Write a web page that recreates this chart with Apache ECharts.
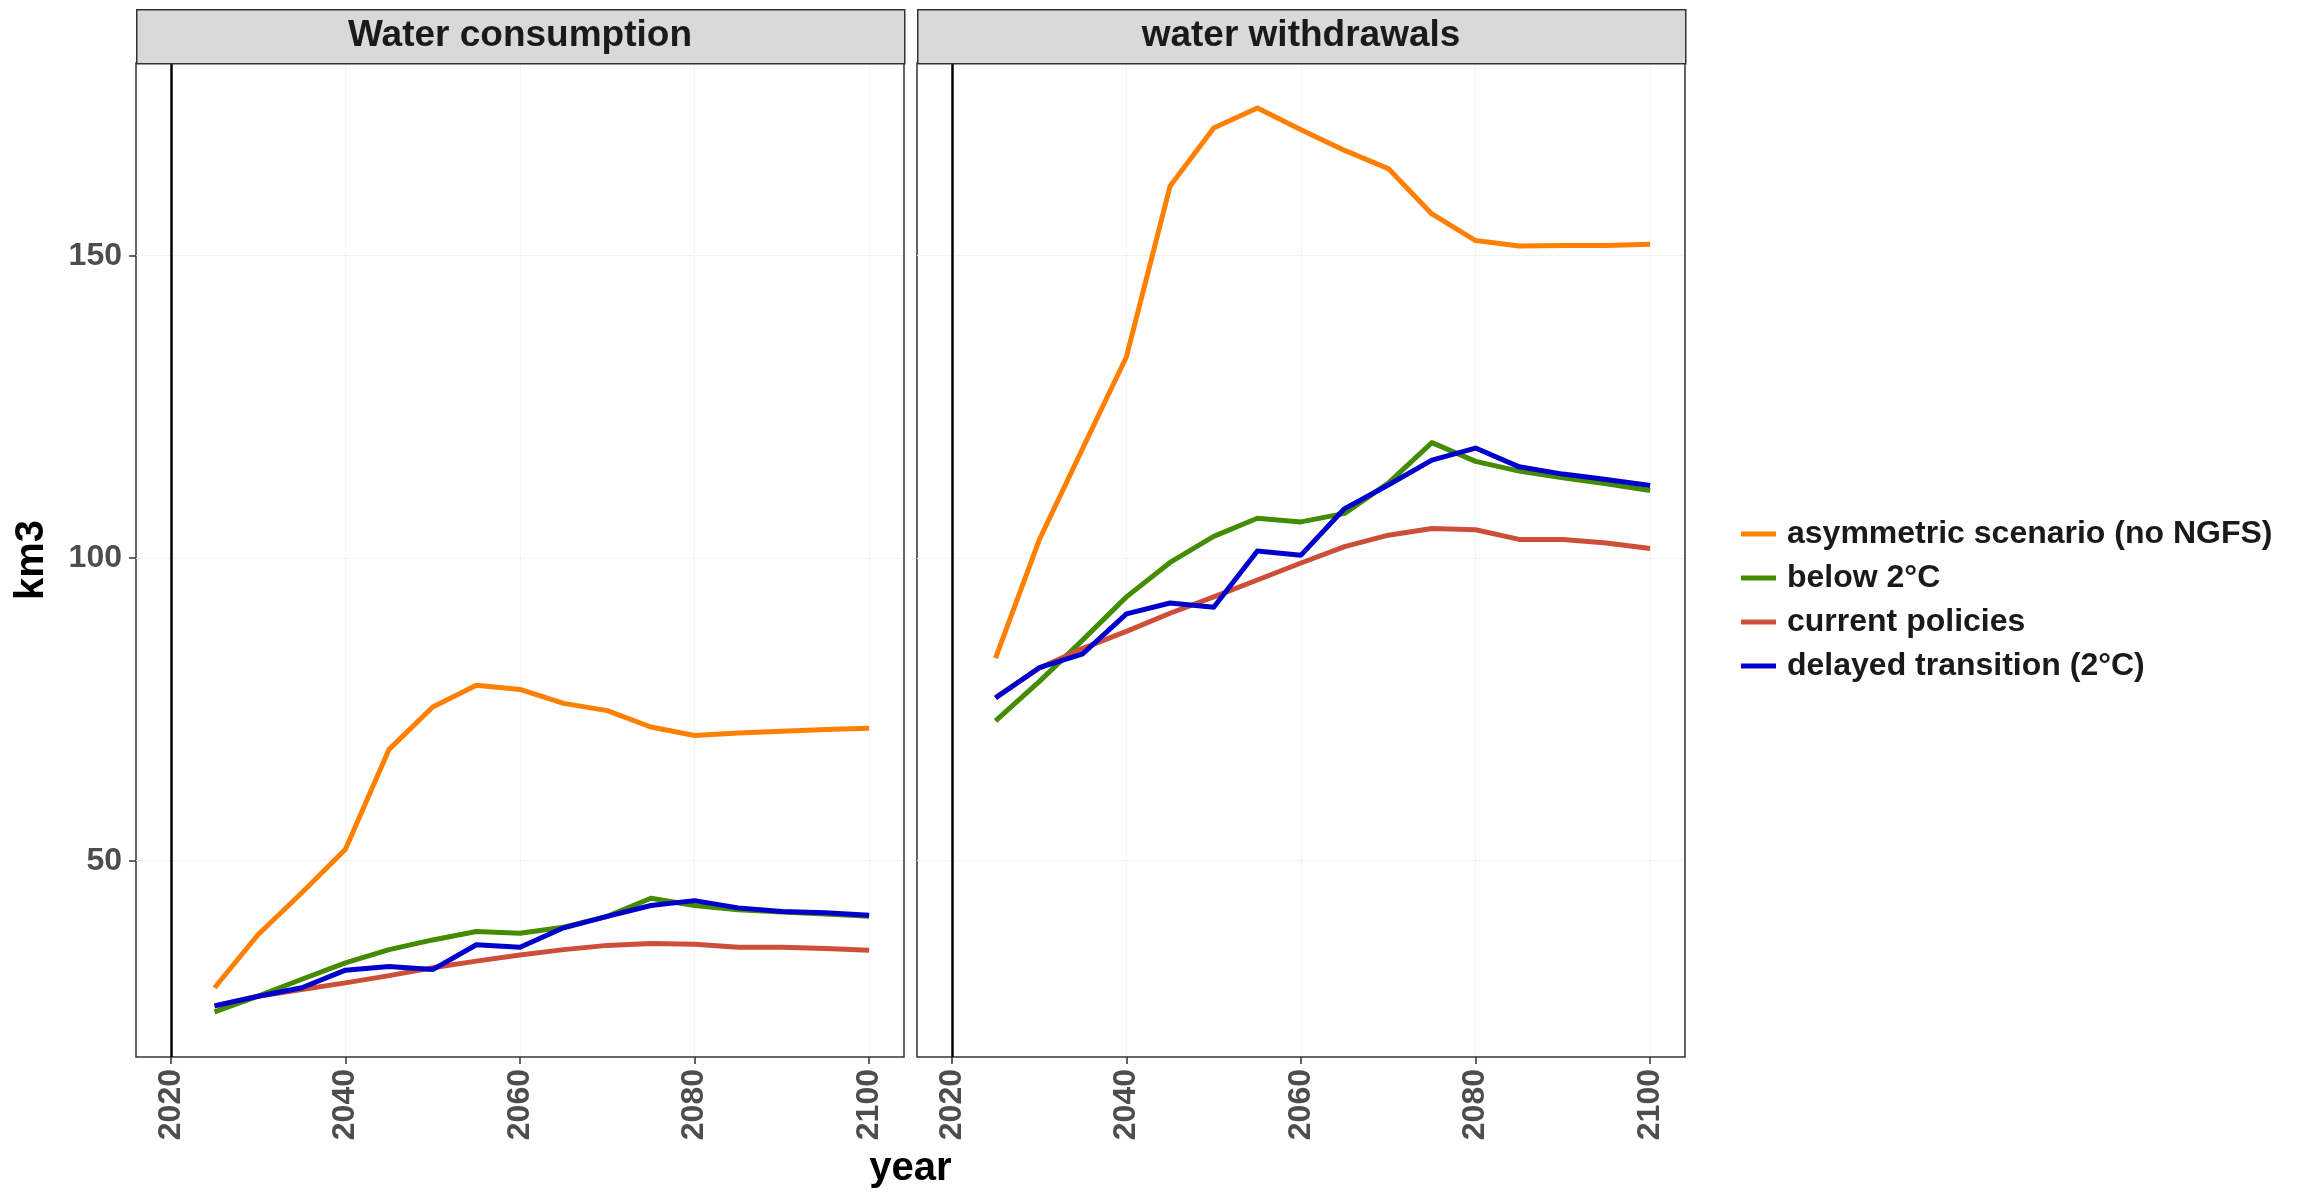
<!DOCTYPE html>
<html>
<head>
<meta charset="utf-8">
<script src="https://cdn.jsdelivr.net/npm/echarts@6/dist/echarts.min.js"></script>
<style>html,body{margin:0;padding:0;background:#fff;}#c{width:2305px;height:1197px;}</style>
</head>
<body>
<div id="c"></div>
<script>
const years = [2025,2030,2035,2040,2045,2050,2055,2060,2065,2070,2075,2080,2085,2090,2095,2100];
const panelTitles = ['Water consumption', 'water withdrawals'];
const seriesNames = ['asymmetric scenario (no NGFS)', 'below 2°C', 'current policies', 'delayed transition (2°C)'];
const seriesColors = ['#FF7F00', '#458B00', '#CD4F39', '#0000CD'];

// Water consumption (km3)
const asymConsumption    = [29.0,37.8,44.7,51.9,68.4,75.4,79.0,78.3,76.0,74.8,72.1,70.7,71.1,71.4,71.7,71.9];
const belowConsumption   = [25.0,27.6,30.4,33.1,35.3,36.9,38.3,38.0,39.0,40.8,43.8,42.6,41.9,41.5,41.2,40.8];
const currentConsumption = [26.0,27.6,28.7,29.8,31.0,32.3,33.4,34.4,35.3,36.0,36.3,36.2,35.7,35.7,35.5,35.2];
const delayedConsumption = [26.0,27.6,29.0,31.9,32.5,32.0,36.1,35.7,38.9,40.8,42.6,43.4,42.2,41.6,41.4,41.0];

// Water withdrawals (km3)
const asymWithdrawals    = [83.5,103.0,118.2,133.3,161.5,171.1,174.4,170.8,167.4,164.4,156.9,152.5,151.6,151.7,151.7,151.9];
const belowWithdrawals   = [73.1,79.6,86.5,93.6,99.3,103.6,106.6,106.0,107.4,112.4,119.1,116.0,114.4,113.3,112.3,111.2];
const currentWithdrawals = [77.0,81.8,85.1,87.9,90.9,93.6,96.4,99.2,101.9,103.8,104.9,104.7,103.1,103.1,102.5,101.6];
const delayedWithdrawals = [76.9,81.9,84.2,90.8,92.6,91.9,101.2,100.5,108.2,112.1,116.2,118.2,115.1,113.9,113.0,112.0];

const xTicks = [2020, 2040, 2060, 2080, 2100];
const yTicks = [50, 100, 150];
const refYear = 2020;

const panels = [
  [asymConsumption, belowConsumption, currentConsumption, delayedConsumption],
  [asymWithdrawals, belowWithdrawals, currentWithdrawals, delayedWithdrawals]
];

const FONT = '"Liberation Sans", Arial, sans-serif';
const gridDefs = [{left: 136, width: 768}, {left: 917, width: 768}];
const gridTop = 63, gridHeight = 994;

const grids = gridDefs.map(g => ({
  left: g.left, width: g.width, top: gridTop, height: gridHeight,
  show: true, borderColor: '#333333', borderWidth: 1.5, backgroundColor: '#ffffff'
}));

const xAxes = gridDefs.map((g, i) => ({
  type: 'value', gridIndex: i, min: 2016, max: 2104,
  axisLine: {show: false},
  axisTick: {show: true, length: 7, lineStyle: {color: '#333', width: 1.5}, customValues: xTicks},
  axisLabel: {customValues: xTicks, rotate: 90, fontSize: 32, fontWeight: 'bold', color: '#4d4d4d', fontFamily: FONT, margin: 12,
              formatter: v => String(v)},
  splitLine: {show: true, lineStyle: {color: '#e6e6e6', type: 'dotted', width: 1}}
}));

const yAxes = gridDefs.map((g, i) => ({
  type: 'value', gridIndex: i, min: 17.55, max: 181.85,
  axisLine: {show: false},
  axisTick: {show: i === 0, length: 7, lineStyle: {color: '#333', width: 1.5}, customValues: yTicks},
  axisLabel: {show: i === 0, customValues: yTicks, fontSize: 32, fontWeight: 'bold', color: '#4d4d4d', fontFamily: FONT, margin: 14,
              formatter: v => String(v)},
  splitLine: {show: true, lineStyle: {color: '#e6e6e6', type: 'dotted', width: 1}},
  name: i === 0 ? 'km3' : '',
  nameLocation: 'middle', nameRotate: 90, nameGap: 84,
  nameTextStyle: {fontSize: 40, fontWeight: 'bold', color: '#000', fontFamily: FONT}
}));

const series = [];
panels.forEach((vals, p) => {
  vals.forEach((arr, s) => {
    const ser = {
      name: seriesNames[s], type: 'line', xAxisIndex: p, yAxisIndex: p,
      data: years.map((y, k) => [y, arr[k]]),
      showSymbol: false, symbol: 'none',
      lineStyle: {color: seriesColors[s], width: 5, join: 'round'},
      itemStyle: {color: seriesColors[s]},
      z: 3 + s, animation: false
    };
    if (s === 0) {
      ser.markLine = {
        silent: true, symbol: 'none', animation: false,
        label: {show: false},
        lineStyle: {color: '#000', width: 2.5, type: 'solid'},
        data: [{xAxis: refYear}]
      };
    }
    series.push(ser);
  });
});

const graphics = [];
gridDefs.forEach((g, i) => {
  graphics.push({
    type: 'rect', left: g.left, top: 9, z: 10,
    shape: {width: g.width, height: 54},
    style: {fill: '#d9d9d9', stroke: '#333333', lineWidth: 1.5}
  });
  graphics.push({
    type: 'text', x: g.left + g.width / 2, y: 36, z: 11,
    style: {text: panelTitles[i], fontSize: 37, fontWeight: 'bold', fill: '#1a1a1a', fontFamily: FONT, align: 'center', verticalAlign: 'middle'}
  });
});
graphics.push({
  type: 'text', x: (136 + 1685) / 2, y: 1169, z: 11,
  style: {text: 'year', fontSize: 40, fontWeight: 'bold', fill: '#000', fontFamily: FONT, align: 'center', verticalAlign: 'middle'}
});

const chart = echarts.init(document.getElementById('c'), null, {renderer: 'canvas'});
chart.setOption({
  animation: false,
  backgroundColor: '#ffffff',
  grid: grids,
  xAxis: xAxes,
  yAxis: yAxes,
  legend: {
    data: seriesNames,
    orient: 'vertical', left: 1736, top: 513,
    icon: 'rect', itemWidth: 35, itemHeight: 5, itemGap: 12,
    textStyle: {fontSize: 32, fontWeight: 'bold', color: '#1a1a1a', fontFamily: FONT, padding: [0, 0, 0, 6]},
    selectedMode: false
  },
  series: series,
  graphic: graphics
});
</script>
</body>
</html>
